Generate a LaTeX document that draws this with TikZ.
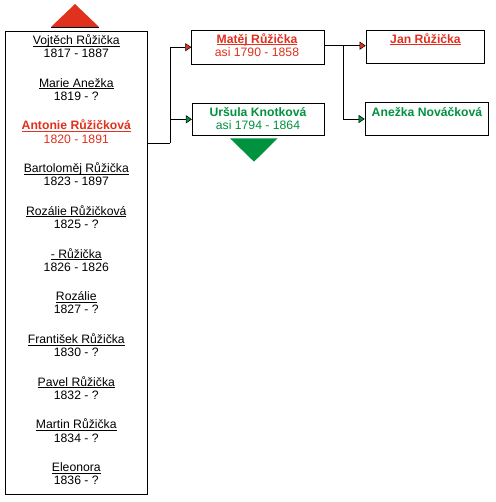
\documentclass[tikz,border=0pt]{standalone}
\usepackage{fontspec}
\setmainfont{Liberation Sans}
\usetikzlibrary{arrows.meta}
\definecolor{fred}{RGB}{224,48,30}
\definecolor{fgreen}{RGB}{0,146,63}
\newcommand\uln[1]{\setbox0\hbox{#1}\rlap{\rule[-2pt]{\wd0}{0.8pt}}\box0}
\tikzset{
  x=1pt,y=-1pt,
  pbox/.style={draw=black,line width=0.8pt,fill=white,inner sep=0pt},
  txt/.style={anchor=base,inner sep=0pt,font=\fontsize{12.2}{14}\selectfont},
  btxt/.style={txt,font=\fontsize{12.2}{14}\selectfont\bfseries},
  link/.style={draw=black,line width=0.8pt},
  redtip/.style={-{Triangle[length=6pt,width=8pt,fill=fred,line width=0.5pt]}},
  greentip/.style={-{Triangle[length=6pt,width=8pt,fill=fgreen,line width=0.5pt]}},
}
\begin{document}
\begin{tikzpicture}
\useasboundingbox[fill=white] (0,0) rectangle (495,502);
% boxes
\node[pbox,minimum width=142pt,minimum height=463pt] (lb) at (76.3,262.5) {};
\node[pbox,minimum width=132.6pt,minimum height=34.3pt] (mat) at (258,47.2) {};
\node[pbox,minimum width=132pt,minimum height=32pt] (urs) at (258.3,119.3) {};
\node[pbox,minimum width=118.3pt,minimum height=33.3pt] (jan) at (425.2,46.7) {};
\node[pbox,minimum width=123.3pt,minimum height=32.6pt] (ane) at (426.7,119) {};
% triangles
\fill[fred] (51,27) -- (75,4) -- (99,27) -- cycle;
\draw[black,line width=0.6pt] (51,27) -- (99,27);
\fill[fgreen] (230,138.3) -- (277.7,138.3) -- (254,161.7) -- cycle;
% connectors
\coordinate (jA) at (170,143);
\coordinate (jB) at (343.3,45.7);
\draw[link] (lb.east |- jA) -- (jA);
\draw[link,redtip] (jA) |- (mat.west);
\draw[link,greentip] (jA) |- (urs.west);
\draw[link] (mat.east |- jB) -- (jB);
\draw[link,redtip] (jB) -- (jan.west |- jB);
\draw[link,greentip] (jB) |- (ane.west);
% right side texts
\node[btxt,text=fred] (matn) at (257,43.3) {\uln{Matěj Růžička}};
\node[txt,text=fred] (matd) at (257,56.7) {asi 1790 - 1858};
\node[btxt,text=fgreen] (ursn) at (258,116.7) {Uršula Knotková};
\node[txt,text=fgreen] (ursd) at (258,130) {asi 1794 - 1864};
\node[btxt,text=fred] (jann) at (425.5,43.3) {\uln{Jan Růžička}};
\node[btxt,text=fgreen] (anen) at (427,116.7) {Anežka Nováčková};
% left list
\node[txt] (n1) at (76.3,44.5) {\uln{Vojtěch Růžička}};
\node[txt] (d1) at (76.3,57.7) {1817 - 1887};
\node[txt] (n2) at (76.3,87.2) {\uln{Marie Anežka}};
\node[txt] (d2) at (76.3,100.4) {1819 - ?};
\node[btxt,text=fred] (n3) at (76.3,129.9) {\uln{Antonie Růžičková}};
\node[txt,text=fred] (d3) at (76.3,143.1) {1820 - 1891};
\node[txt] (n4) at (76.3,172.6) {\uln{Bartoloměj Růžička}};
\node[txt] (d4) at (76.3,185.8) {1823 - 1897};
\node[txt] (n5) at (76.3,215.3) {\uln{Rozálie Růžičková}};
\node[txt] (d5) at (76.3,228.5) {1825 - ?};
\node[txt] (n6) at (76.3,258) {\uln{- Růžička}};
\node[txt] (d6) at (76.3,271.2) {1826 - 1826};
\node[txt] (n7) at (76.3,300.7) {\uln{Rozálie}};
\node[txt] (d7) at (76.3,313.9) {1827 - ?};
\node[txt] (n8) at (76.3,343.4) {\uln{František Růžička}};
\node[txt] (d8) at (76.3,356.6) {1830 - ?};
\node[txt] (n9) at (76.3,386.1) {\uln{Pavel Růžička}};
\node[txt] (d9) at (76.3,399.3) {1832 - ?};
\node[txt] (n10) at (76.3,428.8) {\uln{Martin Růžička}};
\node[txt] (d10) at (76.3,442) {1834 - ?};
\node[txt] (n11) at (76.3,471.5) {\uln{Eleonora}};
\node[txt] (d11) at (76.3,484.7) {1836 - ?};
\end{tikzpicture}
\end{document}
